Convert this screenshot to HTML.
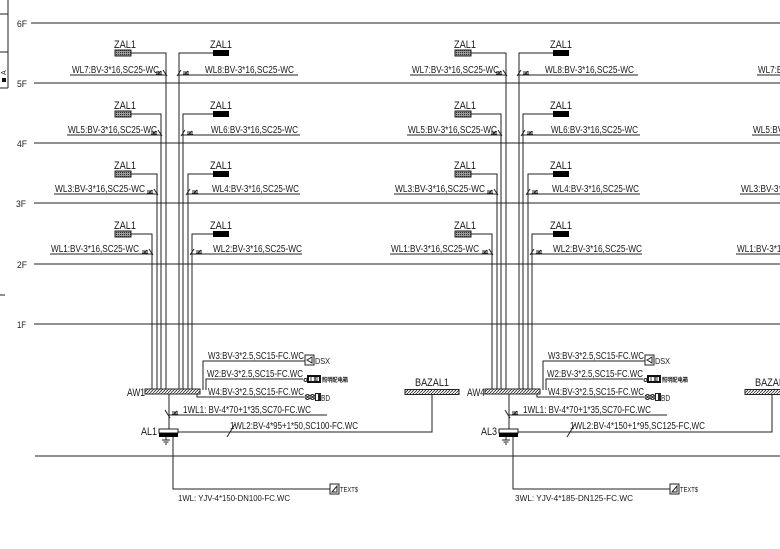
<!DOCTYPE html>
<html><head><meta charset="utf-8"><style>
html,body{margin:0;padding:0;background:#fff;}
svg{display:block;}
text{font-family:"Liberation Sans","Noto Sans CJK SC",sans-serif;fill:#1a1a1a;}
</style></head><body>
<svg width="780" height="549" viewBox="0 0 780 549" xmlns="http://www.w3.org/2000/svg">
<defs>
<pattern id="h" width="3" height="3" patternUnits="userSpaceOnUse"><rect width="3" height="3" fill="#fff"/><path d="M0,3 L3,0" stroke="#333" stroke-width="0.9"/></pattern>
<pattern id="hz" width="2" height="2" patternUnits="userSpaceOnUse"><rect width="2" height="2" fill="#9a9a9a"/><rect width="1" height="1" fill="#333"/></pattern>
</defs>
<rect width="780" height="549" fill="#fff"/>

<!-- left edge fragment -->
<g stroke="#222" stroke-width="1" fill="none" shape-rendering="crispEdges">
<line x1="8" y1="0" x2="8" y2="88"/>
<line x1="0" y1="14" x2="8" y2="14"/>
<line x1="0" y1="52" x2="8" y2="52"/>
<line x1="0" y1="88" x2="8" y2="88"/>
<line x1="0" y1="295" x2="5" y2="295"/>
</g>
<rect x="2" y="78" width="4" height="4" fill="#111"/>
<text x="0" y="0" font-size="7" transform="translate(6,75) rotate(-90)">A</text>

<!-- floor lines -->
<g stroke="#222" stroke-width="1" shape-rendering="crispEdges">
<line x1="31" y1="23" x2="780" y2="23"/>
<line x1="34" y1="83" x2="780" y2="83"/>
<line x1="34" y1="143" x2="780" y2="143"/>
<line x1="34" y1="203" x2="780" y2="203"/>
<line x1="34" y1="264" x2="780" y2="264"/>
<line x1="34" y1="324" x2="780" y2="324"/>
<line x1="35" y1="456" x2="780" y2="456"/>
</g>
<g font-size="9.5">
<text x="17" y="27" textLength="10" lengthAdjust="spacingAndGlyphs">6F</text>
<text x="17" y="87" textLength="10" lengthAdjust="spacingAndGlyphs">5F</text>
<text x="17" y="147" textLength="10" lengthAdjust="spacingAndGlyphs">4F</text>
<text x="16" y="207" textLength="10" lengthAdjust="spacingAndGlyphs">3F</text>
<text x="17" y="268" textLength="10" lengthAdjust="spacingAndGlyphs">2F</text>
<text x="17" y="328" textLength="9" lengthAdjust="spacingAndGlyphs">1F</text>
</g>

<!-- ============ GROUP 1 ============ -->
<g>
<g stroke="#222" stroke-width="1" fill="none">
<g shape-rendering="crispEdges">
<polyline points="131,53 166,53 166,390"/>
<polyline points="213,53 179,53 179,390"/>
<polyline points="131,114 161,114 161,390"/>
<polyline points="213,114 183,114 183,390"/>
<polyline points="131,174 157,174 157,390"/>
<polyline points="213,174 188,174 188,390"/>
<polyline points="131,234 152,234 152,390"/>
<polyline points="213,234 192,234 192,390"/>
<line x1="70" y1="75" x2="167" y2="75"/>
<line x1="178" y1="75" x2="298" y2="75"/>
<line x1="67" y1="135" x2="162" y2="135"/>
<line x1="182" y1="135" x2="300" y2="135"/>
<line x1="54" y1="194" x2="158" y2="194"/>
<line x1="187" y1="194" x2="300" y2="194"/>
<line x1="50" y1="254" x2="153" y2="254"/>
<line x1="191" y1="254" x2="302" y2="254"/>
<polyline points="203,390 203,361 305,361"/>
<polyline points="206,390 206,379 303,379"/>
<polyline points="197,394 197,397 304,397"/>
<line x1="169" y1="394" x2="169" y2="429"/>
<line x1="169" y1="415" x2="327" y2="415"/>
<polyline points="178,432 432,432 432,395"/>
<polyline points="173,437 173,489 330,489"/>
</g>
<path d="M156,72h6M156,74h6M157,75l4,-4M163,70l4,6 M177,76l4,-6M183,72h6M183,74h6M184,75l4,-4
M151,132h6M151,134h6M152,135l4,-4M158,130l4,6 M181,136l4,-6M187,132h6M187,134h6M188,135l4,-4
M147,191h6M147,193h6M148,194l4,-4M154,189l4,6 M186,195l4,-6M192,191h6M192,193h6M193,194l4,-4
M142,251h6M142,253h6M143,254l4,-4M149,249l4,6 M190,255l4,-6M196,251h6M196,253h6M197,254l4,-4
M165,410l5,8 M172,412h6M172,414h6M173,415l4,-4 M227,437l8,-13
M166,437v3M162,440h8M163.5,442h5M165,444h2"/>
<rect x="305" y="355" width="9" height="10"/>
<path d="M312,357L307,360L312,363Z"/>
<rect x="330" y="484" width="9" height="10"/>
<path d="M332,492L337,486V492Z"/>
<circle cx="305.5" cy="380" r="1.5"/>
<circle cx="307.5" cy="397" r="2.5"/><path d="M305.7,395.2l3.6,3.6M309.3,395.2l-3.6,3.6"/>
<circle cx="312.5" cy="397" r="2.5"/><path d="M310.7,395.2l3.6,3.6M314.3,395.2l-3.6,3.6"/>
<rect x="315.5" y="393.5" width="5" height="7"/>
</g>
<rect x="318" y="393.5" width="2.5" height="7" fill="#222"/>
<rect x="307" y="375" width="14" height="8" fill="#111"/>
<rect x="309" y="377" width="10" height="4" fill="#fff"/>
<path d="M311,377v4M314,377l2,4M316,377l-2,4M317,377v4" stroke="#111" stroke-width="0.8"/>

<rect x="115" y="50" width="16" height="6" fill="url(#hz)" stroke="#222"/>
<rect x="213" y="50" width="16" height="6" fill="#000"/>
<rect x="115" y="111" width="16" height="6" fill="url(#hz)" stroke="#222"/>
<rect x="213" y="111" width="16" height="6" fill="#000"/>
<rect x="115" y="171" width="16" height="6" fill="url(#hz)" stroke="#222"/>
<rect x="213" y="171" width="16" height="6" fill="#000"/>
<rect x="115" y="231" width="16" height="6" fill="url(#hz)" stroke="#222"/>
<rect x="213" y="231" width="16" height="6" fill="#000"/>

<rect x="145" y="389" width="55" height="5" fill="url(#h)" stroke="#222"/>
<rect x="405" y="389.5" width="54" height="5" fill="url(#h)" stroke="#222"/>
<rect x="159" y="429" width="19" height="4" fill="#fff" stroke="#222"/>
<rect x="159" y="433" width="19" height="4" fill="#000"/>

<g font-size="11">
<text x="114" y="48" textLength="22" lengthAdjust="spacingAndGlyphs">ZAL1</text>
<text x="210" y="48" textLength="22" lengthAdjust="spacingAndGlyphs">ZAL1</text>
<text x="114" y="109" textLength="22" lengthAdjust="spacingAndGlyphs">ZAL1</text>
<text x="210" y="109" textLength="22" lengthAdjust="spacingAndGlyphs">ZAL1</text>
<text x="114" y="169" textLength="22" lengthAdjust="spacingAndGlyphs">ZAL1</text>
<text x="210" y="169" textLength="22" lengthAdjust="spacingAndGlyphs">ZAL1</text>
<text x="114" y="229" textLength="22" lengthAdjust="spacingAndGlyphs">ZAL1</text>
<text x="210" y="229" textLength="22" lengthAdjust="spacingAndGlyphs">ZAL1</text>
<text x="127" y="396" textLength="18" lengthAdjust="spacingAndGlyphs">AW1</text>
<text x="141" y="435" textLength="16" lengthAdjust="spacingAndGlyphs">AL1</text>
<text x="415" y="386" textLength="34" lengthAdjust="spacingAndGlyphs">BAZAL1</text>
</g>
<g font-size="10">
<text x="72" y="73" textLength="87" lengthAdjust="spacingAndGlyphs">WL7:BV-3*16,SC25-WC</text>
<text x="205" y="73" textLength="89" lengthAdjust="spacingAndGlyphs">WL8:BV-3*16,SC25-WC</text>
<text x="68" y="133" textLength="89" lengthAdjust="spacingAndGlyphs">WL5:BV-3*16,SC25-WC</text>
<text x="211" y="133" textLength="87" lengthAdjust="spacingAndGlyphs">WL6:BV-3*16,SC25-WC</text>
<text x="55" y="192" textLength="90" lengthAdjust="spacingAndGlyphs">WL3:BV-3*16,SC25-WC</text>
<text x="212" y="192" textLength="87" lengthAdjust="spacingAndGlyphs">WL4:BV-3*16,SC25-WC</text>
<text x="51" y="252" textLength="88" lengthAdjust="spacingAndGlyphs">WL1:BV-3*16,SC25-WC</text>
<text x="213" y="252" textLength="89" lengthAdjust="spacingAndGlyphs">WL2:BV-3*16,SC25-WC</text>
<text x="208" y="359" textLength="96" lengthAdjust="spacingAndGlyphs">W3:BV-3*2.5,SC15-FC.WC</text>
<text x="207" y="377" textLength="96" lengthAdjust="spacingAndGlyphs">W2:BV-3*2.5,SC15-FC.WC</text>
<text x="208" y="395" textLength="96" lengthAdjust="spacingAndGlyphs">W4:BV-3*2.5,SC15-FC.WC</text>
<text x="183" y="413" textLength="128" lengthAdjust="spacingAndGlyphs">1WL1: BV-4*70+1*35,SC70-FC.WC</text>
<text x="230" y="429" textLength="128" lengthAdjust="spacingAndGlyphs">1WL2:BV-4*95+1*50,SC100-FC.WC</text>
</g>
<g font-size="8.5">
<text x="315" y="364" textLength="15" lengthAdjust="spacingAndGlyphs">DSX</text>
<text x="321" y="401" textLength="9" lengthAdjust="spacingAndGlyphs">BD</text>
<text x="340" y="492" font-size="7" textLength="18" lengthAdjust="spacingAndGlyphs">TEXT$</text>
<text x="178" y="501" textLength="112" lengthAdjust="spacingAndGlyphs">1WL: YJV-4*150-DN100-FC.WC</text>
</g>
<text x="322" y="382" font-size="6" font-weight="bold" textLength="26" lengthAdjust="spacingAndGlyphs">照明配电箱</text>
</g>

<!-- ============ GROUP 2 ============ -->
<g transform="translate(340,0)">
<g stroke="#222" stroke-width="1" fill="none">
<g shape-rendering="crispEdges">
<polyline points="131,53 166,53 166,390"/>
<polyline points="213,53 179,53 179,390"/>
<polyline points="131,114 161,114 161,390"/>
<polyline points="213,114 183,114 183,390"/>
<polyline points="131,174 157,174 157,390"/>
<polyline points="213,174 188,174 188,390"/>
<polyline points="131,234 152,234 152,390"/>
<polyline points="213,234 192,234 192,390"/>
<line x1="70" y1="75" x2="167" y2="75"/>
<line x1="178" y1="75" x2="298" y2="75"/>
<line x1="67" y1="135" x2="162" y2="135"/>
<line x1="182" y1="135" x2="300" y2="135"/>
<line x1="54" y1="194" x2="158" y2="194"/>
<line x1="187" y1="194" x2="300" y2="194"/>
<line x1="50" y1="254" x2="153" y2="254"/>
<line x1="191" y1="254" x2="302" y2="254"/>
<polyline points="203,390 203,361 305,361"/>
<polyline points="206,390 206,379 303,379"/>
<polyline points="197,394 197,397 304,397"/>
<line x1="169" y1="394" x2="169" y2="429"/>
<line x1="169" y1="415" x2="327" y2="415"/>
<polyline points="178,432 432,432 432,395"/>
<polyline points="173,437 173,489 330,489"/>
</g>
<path d="M156,72h6M156,74h6M157,75l4,-4M163,70l4,6 M177,76l4,-6M183,72h6M183,74h6M184,75l4,-4
M151,132h6M151,134h6M152,135l4,-4M158,130l4,6 M181,136l4,-6M187,132h6M187,134h6M188,135l4,-4
M147,191h6M147,193h6M148,194l4,-4M154,189l4,6 M186,195l4,-6M192,191h6M192,193h6M193,194l4,-4
M142,251h6M142,253h6M143,254l4,-4M149,249l4,6 M190,255l4,-6M196,251h6M196,253h6M197,254l4,-4
M165,410l5,8 M172,412h6M172,414h6M173,415l4,-4 M227,437l8,-13
M166,437v3M162,440h8M163.5,442h5M165,444h2"/>
<rect x="305" y="355" width="9" height="10"/>
<path d="M312,357L307,360L312,363Z"/>
<rect x="330" y="484" width="9" height="10"/>
<path d="M332,492L337,486V492Z"/>
<circle cx="305.5" cy="380" r="1.5"/>
<circle cx="307.5" cy="397" r="2.5"/><path d="M305.7,395.2l3.6,3.6M309.3,395.2l-3.6,3.6"/>
<circle cx="312.5" cy="397" r="2.5"/><path d="M310.7,395.2l3.6,3.6M314.3,395.2l-3.6,3.6"/>
<rect x="315.5" y="393.5" width="5" height="7"/>
</g>
<rect x="318" y="393.5" width="2.5" height="7" fill="#222"/>
<rect x="307" y="375" width="14" height="8" fill="#111"/>
<rect x="309" y="377" width="10" height="4" fill="#fff"/>
<path d="M311,377v4M314,377l2,4M316,377l-2,4M317,377v4" stroke="#111" stroke-width="0.8"/>

<rect x="115" y="50" width="16" height="6" fill="url(#hz)" stroke="#222"/>
<rect x="213" y="50" width="16" height="6" fill="#000"/>
<rect x="115" y="111" width="16" height="6" fill="url(#hz)" stroke="#222"/>
<rect x="213" y="111" width="16" height="6" fill="#000"/>
<rect x="115" y="171" width="16" height="6" fill="url(#hz)" stroke="#222"/>
<rect x="213" y="171" width="16" height="6" fill="#000"/>
<rect x="115" y="231" width="16" height="6" fill="url(#hz)" stroke="#222"/>
<rect x="213" y="231" width="16" height="6" fill="#000"/>

<rect x="145" y="389" width="55" height="5" fill="url(#h)" stroke="#222"/>
<rect x="405" y="389.5" width="54" height="5" fill="url(#h)" stroke="#222"/>
<rect x="159" y="429" width="19" height="4" fill="#fff" stroke="#222"/>
<rect x="159" y="433" width="19" height="4" fill="#000"/>

<g font-size="11">
<text x="114" y="48" textLength="22" lengthAdjust="spacingAndGlyphs">ZAL1</text>
<text x="210" y="48" textLength="22" lengthAdjust="spacingAndGlyphs">ZAL1</text>
<text x="114" y="109" textLength="22" lengthAdjust="spacingAndGlyphs">ZAL1</text>
<text x="210" y="109" textLength="22" lengthAdjust="spacingAndGlyphs">ZAL1</text>
<text x="114" y="169" textLength="22" lengthAdjust="spacingAndGlyphs">ZAL1</text>
<text x="210" y="169" textLength="22" lengthAdjust="spacingAndGlyphs">ZAL1</text>
<text x="114" y="229" textLength="22" lengthAdjust="spacingAndGlyphs">ZAL1</text>
<text x="210" y="229" textLength="22" lengthAdjust="spacingAndGlyphs">ZAL1</text>
<text x="127" y="396" textLength="18" lengthAdjust="spacingAndGlyphs">AW4</text>
<text x="141" y="435" textLength="16" lengthAdjust="spacingAndGlyphs">AL3</text>
<text x="415" y="386" textLength="34" lengthAdjust="spacingAndGlyphs">BAZAL1</text>
</g>
<g font-size="10">
<text x="72" y="73" textLength="87" lengthAdjust="spacingAndGlyphs">WL7:BV-3*16,SC25-WC</text>
<text x="205" y="73" textLength="89" lengthAdjust="spacingAndGlyphs">WL8:BV-3*16,SC25-WC</text>
<text x="68" y="133" textLength="89" lengthAdjust="spacingAndGlyphs">WL5:BV-3*16,SC25-WC</text>
<text x="211" y="133" textLength="87" lengthAdjust="spacingAndGlyphs">WL6:BV-3*16,SC25-WC</text>
<text x="55" y="192" textLength="90" lengthAdjust="spacingAndGlyphs">WL3:BV-3*16,SC25-WC</text>
<text x="212" y="192" textLength="87" lengthAdjust="spacingAndGlyphs">WL4:BV-3*16,SC25-WC</text>
<text x="51" y="252" textLength="88" lengthAdjust="spacingAndGlyphs">WL1:BV-3*16,SC25-WC</text>
<text x="213" y="252" textLength="89" lengthAdjust="spacingAndGlyphs">WL2:BV-3*16,SC25-WC</text>
<text x="208" y="359" textLength="96" lengthAdjust="spacingAndGlyphs">W3:BV-3*2.5,SC15-FC.WC</text>
<text x="207" y="377" textLength="96" lengthAdjust="spacingAndGlyphs">W2:BV-3*2.5,SC15-FC.WC</text>
<text x="208" y="395" textLength="96" lengthAdjust="spacingAndGlyphs">W4:BV-3*2.5,SC15-FC.WC</text>
<text x="183" y="413" textLength="128" lengthAdjust="spacingAndGlyphs">1WL1: BV-4*70+1*35,SC70-FC.WC</text>
<text x="230" y="429" textLength="135" lengthAdjust="spacingAndGlyphs">1WL2:BV-4*150+1*95,SC125-FC,WC</text>
</g>
<g font-size="8.5">
<text x="315" y="364" textLength="15" lengthAdjust="spacingAndGlyphs">DSX</text>
<text x="321" y="401" textLength="9" lengthAdjust="spacingAndGlyphs">BD</text>
<text x="340" y="492" font-size="7" textLength="18" lengthAdjust="spacingAndGlyphs">TEXT$</text>
<text x="175" y="501" textLength="118" lengthAdjust="spacingAndGlyphs">3WL: YJV-4*185-DN125-FC.WC</text>
</g>
<text x="322" y="382" font-size="6" font-weight="bold" textLength="26" lengthAdjust="spacingAndGlyphs">照明配电箱</text>
</g>

<!-- ============ GROUP 3 (partial, right edge) ============ -->
<g stroke="#222" stroke-width="1" shape-rendering="crispEdges">
<line x1="757" y1="75" x2="780" y2="75"/>
<line x1="752" y1="135" x2="780" y2="135"/>
<line x1="740" y1="194" x2="780" y2="194"/>
<line x1="736" y1="254" x2="780" y2="254"/>
</g>
<g font-size="10">
<text x="758" y="73" textLength="87" lengthAdjust="spacingAndGlyphs">WL7:BV-3*16,SC25-WC</text>
<text x="753" y="133" textLength="89" lengthAdjust="spacingAndGlyphs">WL5:BV-3*16,SC25-WC</text>
<text x="741" y="192" textLength="90" lengthAdjust="spacingAndGlyphs">WL3:BV-3*16,SC25-WC</text>
<text x="737" y="252" textLength="88" lengthAdjust="spacingAndGlyphs">WL1:BV-3*16,SC25-WC</text>
</g>
</svg>
</body></html>
